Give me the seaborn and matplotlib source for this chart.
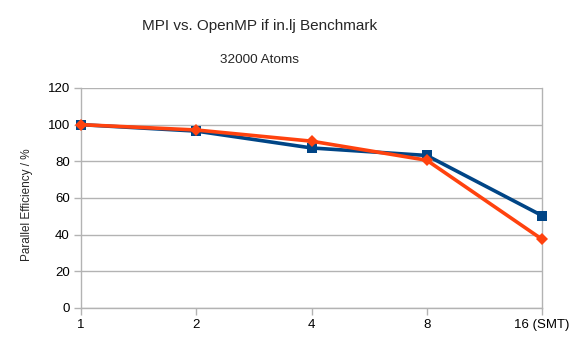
import matplotlib
matplotlib.use("Agg")
import matplotlib.pyplot as plt
import seaborn as sns
import pandas as pd

sns.set_theme(style="white")
plt.rcParams['font.family'] = ['Liberation Sans', 'DejaVu Sans']

threads = ['1', '2', '4', '8', '16 (SMT)']
mpi = [100, 96.5, 87.3, 83.2, 50.4]
openmp = [100, 97.1, 91.0, 80.6, 37.5]

blue = '#004586'
orange = '#ff420e'

fig = plt.figure(figsize=(5.81, 3.40), dpi=100)
ax = fig.add_axes([81/581, 1-308/340, (542-81)/581, (308-88)/340])

df = pd.DataFrame({'threads': threads, 'MPI': mpi, 'OpenMP': openmp})
sns.lineplot(data=df, x='threads', y='MPI', ax=ax, color=blue, lw=2.6,
             marker='s', markersize=7.5, markeredgewidth=0, sort=False)
sns.lineplot(data=df, x='threads', y='OpenMP', ax=ax, color=orange, lw=2.6,
             marker='D', markersize=6.5, markeredgewidth=0, sort=False)
for ln in ax.lines:
    ln.set_clip_on(False)
    ln.set_zorder(5)

ax.set_ylim(0, 120)
ax.set_xlim(0, len(threads)-1)
ax.set_yticks(range(0, 121, 20))
ax.yaxis.grid(True, color='#b3b3b3', lw=1)
ax.set_axisbelow(True)
ax.set_xlabel('')
ax.set_ylabel('')
for s in ['left', 'right', 'bottom']:
    ax.spines[s].set_visible(True)
    ax.spines[s].set_color('#b3b3b3')
    ax.spines[s].set_linewidth(1)
ax.spines['top'].set_visible(False)
ax.tick_params(axis='both', which='both', direction='out', length=5, width=1,
               color='#b3b3b3', labelsize=9.5, labelcolor='#000000',
               bottom=True, left=True, pad=3)

fig.text(260/581, 1-26/340, 'MPI vs. OpenMP if in.lj Benchmark', ha='center',
         va='center', fontsize=11)
fig.text(260/581, 1-60/340, '32000 Atoms', ha='center', va='center', fontsize=9.7)
fig.text(27/581, 1-205/340, 'Parallel Efficiency / %', rotation=90, ha='center',
         va='center', fontsize=8.5)

fig.savefig('out.png', dpi=100)
